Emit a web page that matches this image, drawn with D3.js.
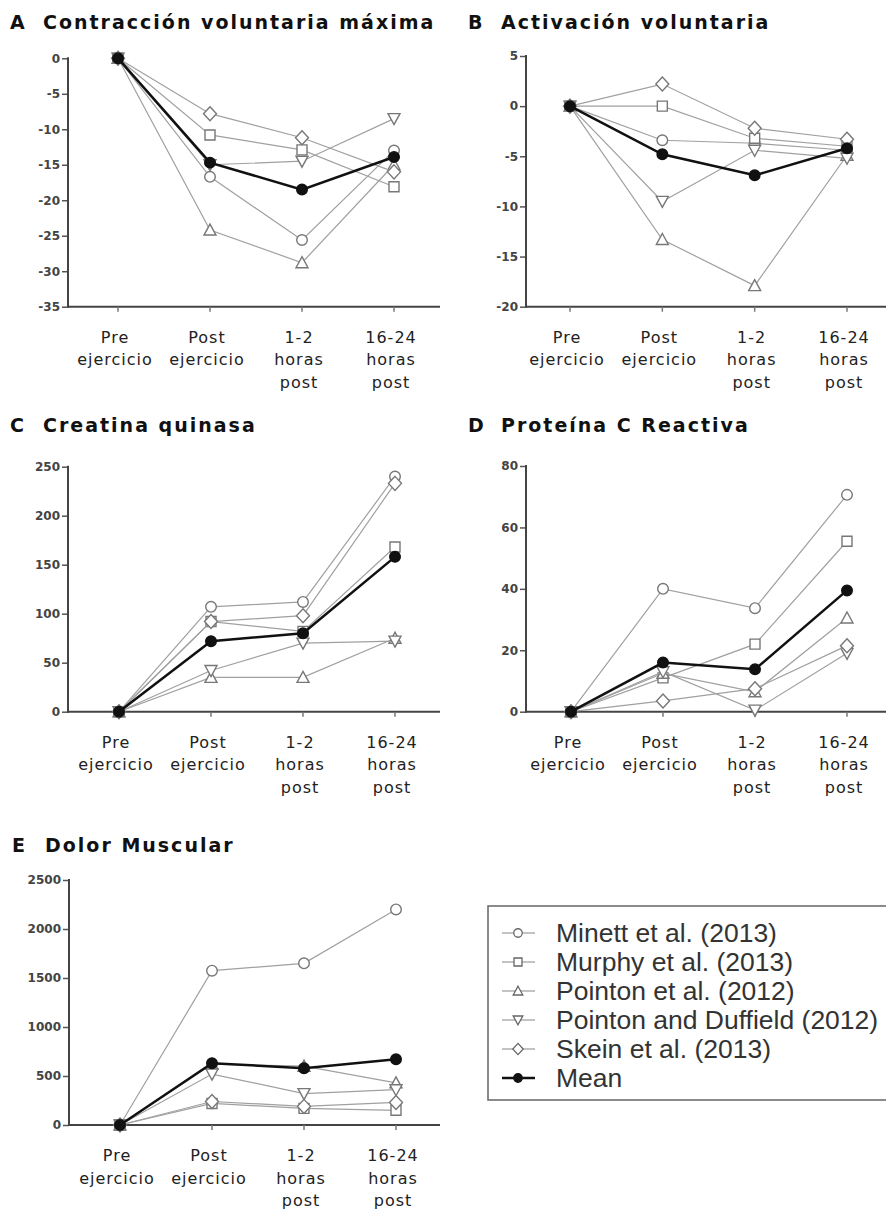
<!DOCTYPE html>
<html>
<head>
<meta charset="utf-8">
<script src="https://cdnjs.cloudflare.com/ajax/libs/d3/7.8.5/d3.min.js"></script>
<style>
  body { margin: 0; background: #fff; }
  .title { font-family: "DejaVu Sans", sans-serif; font-weight: bold; font-size: 19px; letter-spacing: 2px; fill: #111; }
  .ytick text { font-family: "DejaVu Sans", sans-serif; font-weight: bold; font-size: 12px; fill: #444; }
  .xlabel { font-family: "DejaVu Sans", sans-serif; font-size: 16px; letter-spacing: 1px; fill: #222; }
  .legend text { font-family: "Liberation Sans", Arial, sans-serif; font-size: 26.5px; fill: #333; }
</style>
</head>
<body>
<div id="chart"></div>
<script>
// time points and study names

var categories = ['pre', 'post', 'h1_2', 'h16_24'];
var categoryLines = [['Pre', 'ejercicio'], ['Post', 'ejercicio'], ['1-2', 'horas', 'post'], ['16-24', 'horas', 'post']];
var studies = ['Minett et al. (2013)', 'Murphy et al. (2013)', 'Pointon et al. (2012)', 'Pointon and Duffield (2012)', 'Skein et al. (2013)', 'Mean'];
var symbols = ['circle', 'square', 'triangle', 'triangleDown', 'diamond', 'mean'];

// values, one row per study (same order as studies)

var mvcValues = [
  [0, -16.7, -25.6, -13],
  [0, -10.8, -12.9, -18.1],
  [0, -24.2, -28.8, -15],
  [0, -15, -14.5, -8.5],
  [0, -7.8, -11.2, -16],
  [0, -14.7, -18.5, -13.9]
];

var vaValues = [
  [0, -3.4, -3.7, -4.4],
  [0, 0, -3.2, -4.0],
  [0, -13.3, -17.9, -4.9],
  [0, -9.5, -4.4, -5.2],
  [0, 2.2, -2.2, -3.3],
  [0, -4.8, -6.9, -4.2]
];

var ckValues = [
  [0, 107, 112, 240],
  [0, 92, 82, 168],
  [0, 35, 35, 75],
  [0, 42, 70, 72],
  [0, 92, 98, 233],
  [0, 72, 80, 158]
];

var crpValues = [
  [0, 40, 33.7, 70.6],
  [0, 11, 22, 55.5],
  [0, 12.5, 6.5, 30.5],
  [0, 13, 0.5, 19],
  [0, 3.5, 7.5, 21.5],
  [0, 16, 13.8, 39.5]
];

var domsValues = [
  [0, 1575, 1650, 2200],
  [0, 220, 170, 150],
  [0, 620, 600, 430],
  [0, 520, 320, 360],
  [0, 240, 190, 230],
  [0, 630, 580, 670]
];

// y axis ranges and tick steps per panel

var mvcTicks = d3.range(-35, 1, 5);
var vaTicks = d3.range(-20, 6, 5);
var ckTicks = d3.range(0, 251, 50);
var crpTicks = d3.range(0, 81, 20);
var domsTicks = d3.range(0, 2501, 500);

// set up svg area

var svgWidth = 886;
var svgHeight = 1214;

var svg = d3.select('#chart')
  .append('svg')
  .attr('width', svgWidth)
  .attr('height', svgHeight);

// panel layout (axis x, top, bottom, first/last category x, right end of x axis)
var panels = [
  {letter: 'A', title: 'Contracción voluntaria máxima', values: mvcValues, ticks: mvcTicks,
   axisX: 68, top: 58.3, bottom: 306.7, x0: 118, x1: 394, right: 440, titleX: 10, titleY: 29},
  {letter: 'B', title: 'Activación voluntaria', values: vaValues, ticks: vaTicks,
   axisX: 526, top: 56, bottom: 306.7, x0: 570, x1: 847, right: 886, titleX: 468, titleY: 29},
  {letter: 'C', title: 'Creatina quinasa', values: ckValues, ticks: ckTicks,
   axisX: 68, top: 466.7, bottom: 711.7, x0: 119, x1: 395, right: 440, titleX: 10, titleY: 432},
  {letter: 'D', title: 'Proteína C Reactiva', values: crpValues, ticks: crpTicks,
   axisX: 526, top: 466, bottom: 711.7, x0: 571, x1: 847, right: 886, titleX: 468, titleY: 432},
  {letter: 'E', title: 'Dolor Muscular', values: domsValues, ticks: domsTicks,
   axisX: 69, top: 880, bottom: 1125, x0: 120, x1: 396, right: 440, titleX: 12, titleY: 852}
];

// marker shapes
function markerPath(type) {
  switch (type) {
    case 'circle':
    case 'mean':
      return d3.symbol().type(d3.symbolCircle).size(Math.PI * 5.3 * 5.3)();
    case 'square':
      return 'M-5,-5H5V5H-5Z';
    case 'triangle':
      return 'M0,-6L6,5H-6Z';
    case 'triangleDown':
      return 'M0,6L6,-5H-6Z';
    case 'diamond':
      return 'M0,-7L6.5,0L0,7L-6.5,0Z';
  }
}

function drawPanel(p) {
  var g = svg.append('g');

  var xScale = d3.scalePoint()
    .domain(categories)
    .range([p.x0, p.x1]);

  var yScale = d3.scaleLinear()
    .domain([p.ticks[0], p.ticks[p.ticks.length - 1]])
    .range([p.bottom, p.top]);

  // title
  g.append('text')
    .attr('class', 'title')
    .attr('x', p.titleX)
    .attr('y', p.titleY)
    .text(p.letter);
  g.append('text')
    .attr('class', 'title')
    .attr('x', p.titleX + 33)
    .attr('y', p.titleY)
    .text(p.title);

  // y axis
  var leftAxis = d3.axisLeft(yScale)
    .tickValues(p.ticks)
    .tickSize(6)
    .tickPadding(2)
    .tickFormat(d => String(d));

  var yAxis = g.append('g')
    .attr('class', 'ytick')
    .attr('transform', `translate(${p.axisX}, 0)`)
    .call(leftAxis);
  yAxis.select('.domain').remove();
  yAxis.selectAll('line').attr('stroke', '#555').attr('stroke-width', 1.5);

  g.append('line')
    .attr('x1', p.axisX).attr('x2', p.axisX)
    .attr('y1', p.top - 1).attr('y2', p.bottom + 1)
    .attr('stroke', '#444').attr('stroke-width', 2);

  // x axis
  g.append('line')
    .attr('x1', p.axisX).attr('x2', p.right)
    .attr('y1', p.bottom).attr('y2', p.bottom)
    .attr('stroke', '#444').attr('stroke-width', 2);

  g.selectAll('.xtick')
    .data(categories)
    .enter()
    .append('line')
    .attr('x1', d => xScale(d)).attr('x2', d => xScale(d))
    .attr('y1', p.bottom).attr('y2', p.bottom + 5)
    .attr('stroke', '#777').attr('stroke-width', 1.5);

  // category labels, several lines each
  categories.forEach(function(c, i) {
    var t = g.append('text')
      .attr('class', 'xlabel')
      .attr('text-anchor', 'middle')
      .attr('x', xScale(c) - 3)
      .attr('y', p.bottom + 36);
    categoryLines[i].forEach(function(line, j) {
      t.append('tspan')
        .attr('x', xScale(c) - 3)
        .attr('dy', j == 0 ? 0 : 22.5)
        .text(line);
    });
  });

  // study lines and markers
  var line = d3.line()
    .x((d, i) => xScale(categories[i]))
    .y(d => yScale(d));

  p.values.forEach(function(vals, s) {
    var isMean = symbols[s] == 'mean';
    g.append('path')
      .attr('d', line(vals))
      .attr('fill', 'none')
      .attr('stroke', isMean ? '#111' : '#a0a0a0')
      .attr('stroke-width', isMean ? 2.5 : 1.2);

    g.selectAll(null)
      .data(vals)
      .enter()
      .append('path')
      .attr('transform', (d, i) => `translate(${xScale(categories[i])}, ${yScale(d)})`)
      .attr('d', markerPath(symbols[s]))
      .attr('fill', isMean ? '#111' : '#fff')
      .attr('stroke', isMean ? '#111' : '#777')
      .attr('stroke-width', 1.4);
  });
}

panels.forEach(drawPanel);

// legend box
var legend = svg.append('g')
  .attr('class', 'legend');

legend.append('path')
  .attr('d', 'M890,906H488V1100H890')
  .attr('fill', 'none')
  .attr('stroke', '#666')
  .attr('stroke-width', 1.5);

studies.forEach(function(name, i) {
  var y = 933 + i * 29;
  var isMean = symbols[i] == 'mean';
  legend.append('line')
    .attr('x1', 502).attr('x2', 535)
    .attr('y1', y).attr('y2', y)
    .attr('stroke', isMean ? '#111' : '#888')
    .attr('stroke-width', isMean ? 2.5 : 1.2);
  legend.append('path')
    .attr('transform', `translate(518, ${y}) scale(0.8)`)
    .attr('d', markerPath(symbols[i]))
    .attr('fill', isMean ? '#111' : '#fff')
    .attr('stroke', isMean ? '#111' : '#666')
    .attr('stroke-width', 1.6);
  legend.append('text')
    .attr('x', 556)
    .attr('y', y + 9)
    .text(name);
});
</script>
</body>
</html>
